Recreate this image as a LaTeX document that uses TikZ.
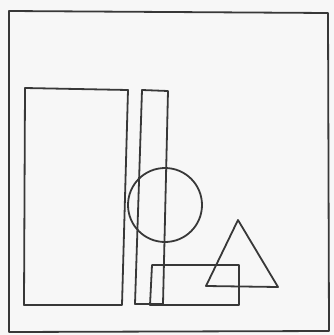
\documentclass[tikz,border=0pt]{standalone}
\begin{document}
\begin{tikzpicture}[x=1pt,y=-1pt,
  shape line/.style={draw=black!78,line width=1.8pt,line join=round,line cap=round}]
\useasboundingbox (0,0) rectangle (334,335);
\fill[black!3] (0,0) rectangle (334,335);
% outer frame
\draw[shape line] (9,11) -- (328,13) -- (329,331) -- (9,332) -- cycle;
% big rectangle
\draw[shape line] (25,88) -- (128,90) -- (122,305) -- (24,305) -- cycle;
% narrow tall rectangle
\draw[shape line] (142,90) -- (168,91) -- (163,304) -- (135,304) -- cycle;
% circle
\draw[shape line] (165,205) circle[radius=37];
% small rectangle
\draw[shape line] (152,265) -- (239,265) -- (239,305) -- (150,305) -- cycle;
% triangle
\draw[shape line] (238,220) -- (278,287) -- (206,286) -- cycle;
\end{tikzpicture}
\end{document}
